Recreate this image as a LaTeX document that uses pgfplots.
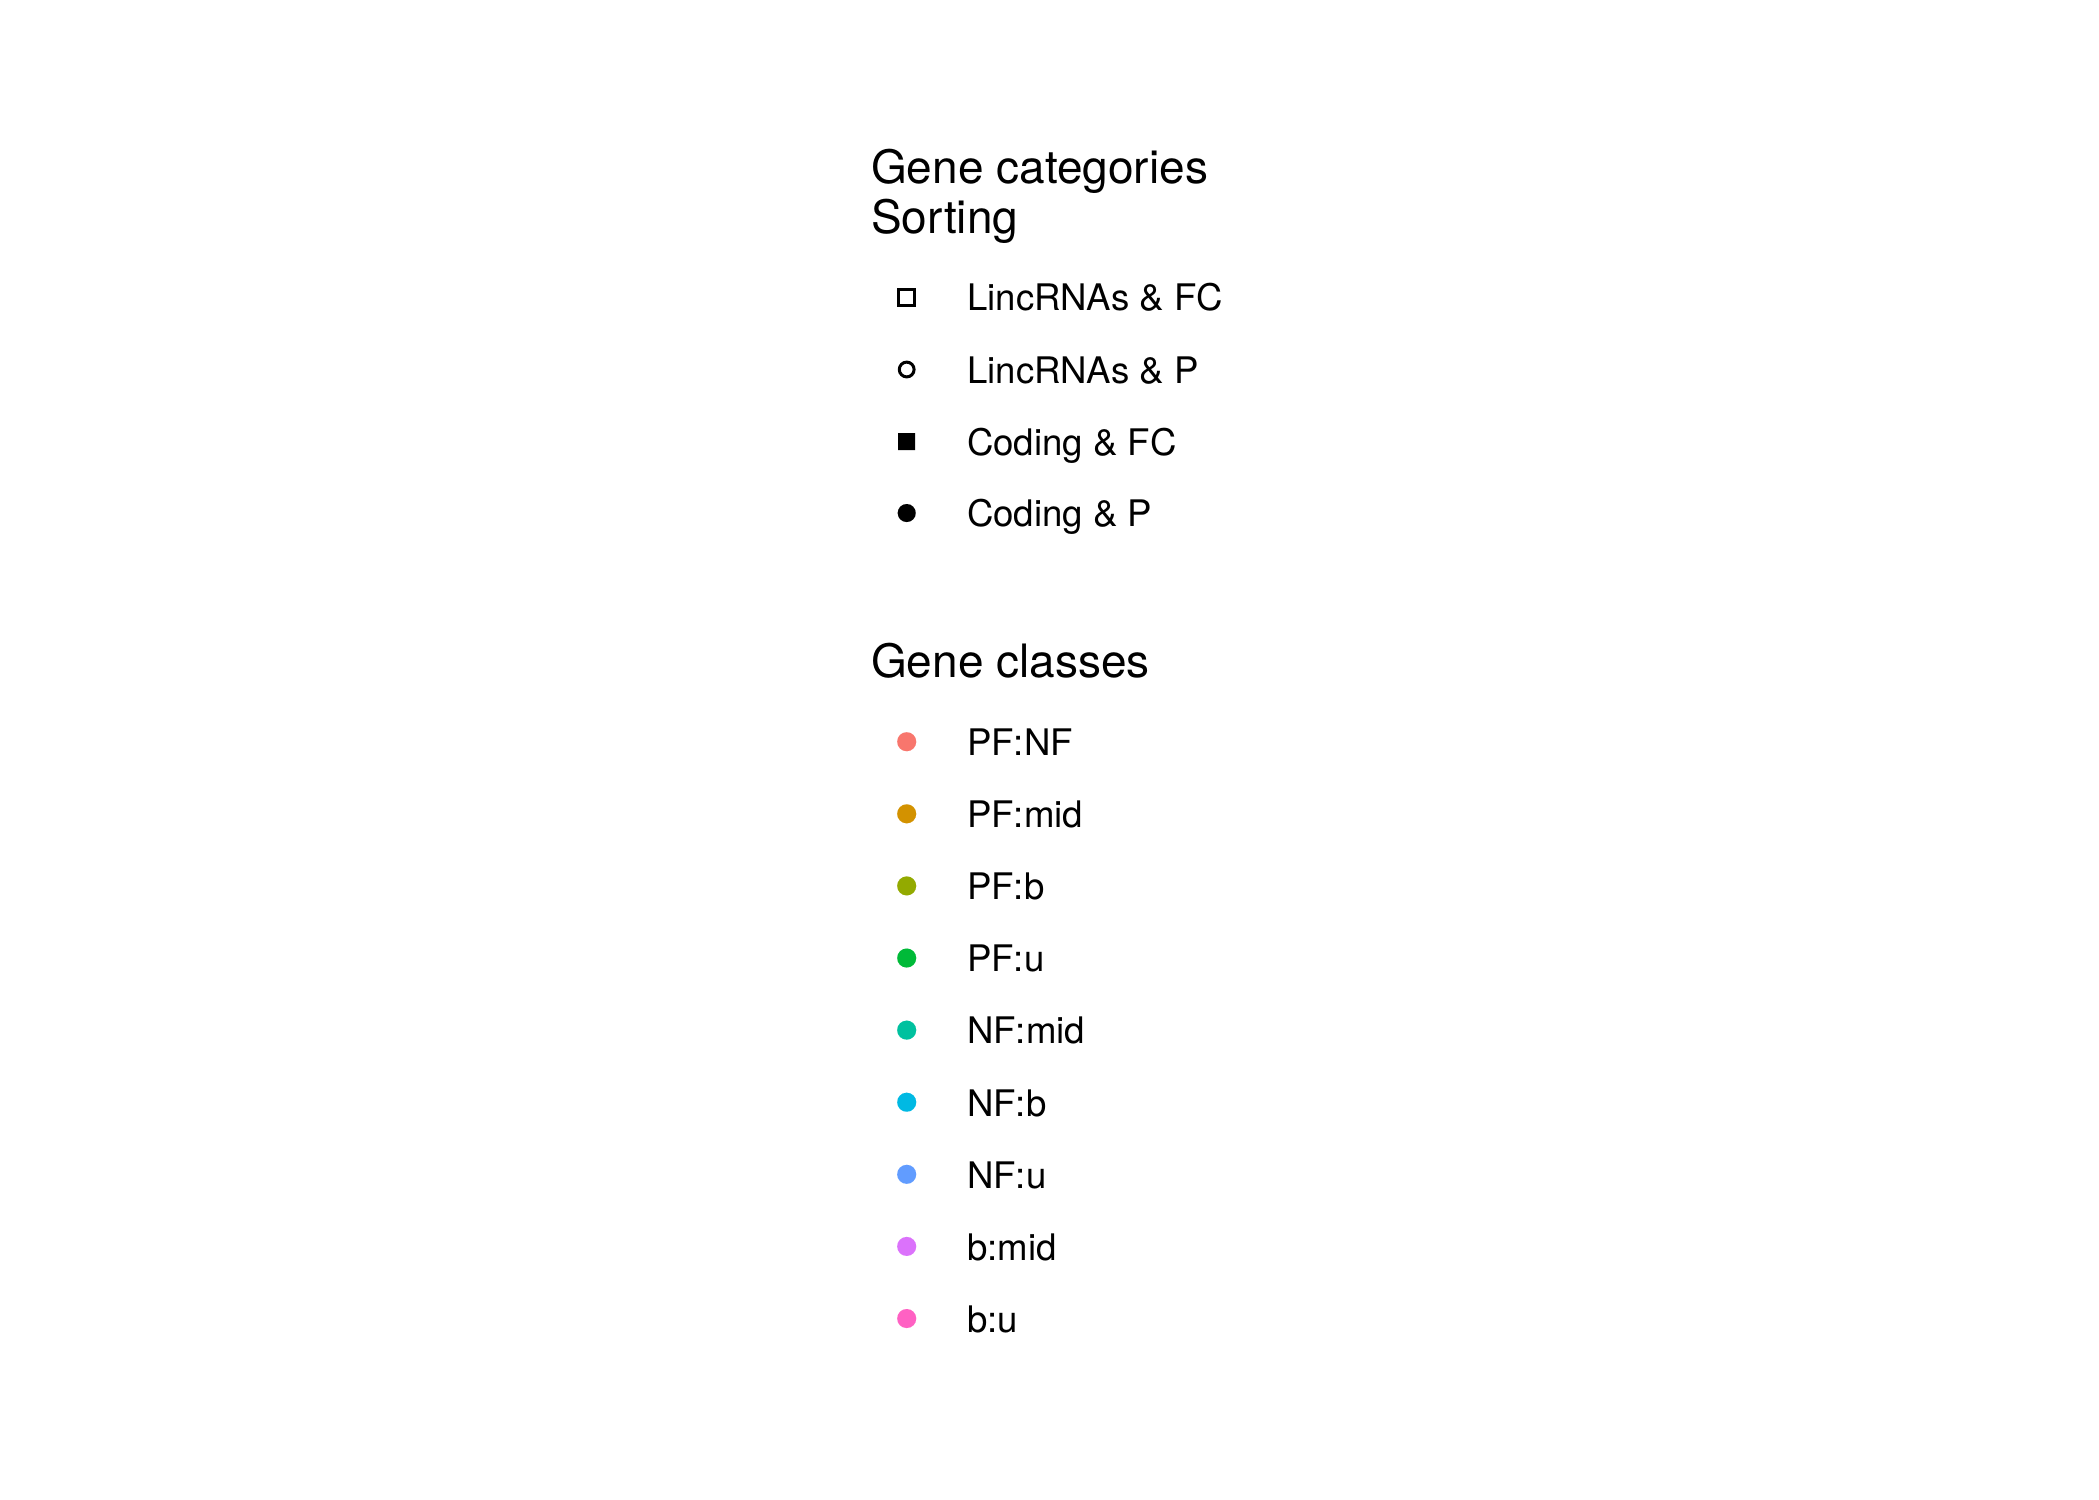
\documentclass[border=0pt]{standalone}
\usepackage{fontspec}
\setmainfont{TeX Gyre Heros}
\usepackage{pgfplots}
\pgfplotsset{compat=1.18}
\definecolor{cA}{HTML}{F8766D}
\definecolor{cB}{HTML}{D39200}
\definecolor{cC}{HTML}{93AA00}
\definecolor{cD}{HTML}{00BA38}
\definecolor{cE}{HTML}{00C19F}
\definecolor{cF}{HTML}{00B9E3}
\definecolor{cG}{HTML}{619CFF}
\definecolor{cH}{HTML}{DB72FB}
\definecolor{cI}{HTML}{FF61C3}
\begin{document}
\begin{tikzpicture}
\begin{axis}[
  scale only axis, width=2099bp, height=1499bp,
  xmin=0, xmax=2099, ymin=0, ymax=1499, y dir=reverse,
  hide axis, clip=false,
  cls/.style={color=#1, only marks, mark=*, mark size=9.5bp, mark options={draw=#1, fill=#1, line width=0.01bp}},
]
\path (rel axis cs:0,0) rectangle (rel axis cs:1,1);
% Gene categories / Sorting
\addplot[black, line width=3bp, only marks, mark=square, mark size=8bp, mark options={draw=black, line width=3bp}] coordinates {(906.7,297)};
\addplot[black, line width=3bp, only marks, mark=o, mark size=7.4bp, mark options={draw=black, line width=3bp}] coordinates {(906.7,369.5)};
\addplot[black, only marks, mark=square*, mark size=8.7bp, mark options={draw=black, fill=black, line width=0.01bp}] coordinates {(906.7,441.5)};
\addplot[black, only marks, mark=*, mark size=9bp, mark options={draw=black, fill=black, line width=0.01bp}] coordinates {(906.7,513)};
% Gene classes
\addplot[cls=cA] coordinates {(906.7,741.7)};
\addplot[cls=cB] coordinates {(906.7,813.8)};
\addplot[cls=cC] coordinates {(906.7,885.9)};
\addplot[cls=cD] coordinates {(906.7,958.0)};
\addplot[cls=cE] coordinates {(906.7,1030.1)};
\addplot[cls=cF] coordinates {(906.7,1102.2)};
\addplot[cls=cG] coordinates {(906.7,1174.3)};
\addplot[cls=cH] coordinates {(906.7,1246.4)};
\addplot[cls=cI] coordinates {(906.7,1318.5)};
% titles
\tikzset{ttl/.style={anchor=base west, inner sep=0pt, font=\fontsize{46bp}{50bp}\selectfont},
         lbl/.style={anchor=base west, inner sep=0pt, font=\fontsize{36.6bp}{40bp}\selectfont}}
\node[ttl] at (axis cs:871,183.5) {Gene categories};
\node[ttl] at (axis cs:871,233.5) {Sorting};
\node[ttl] at (axis cs:871,677.2) {Gene classes};
% labels
\node[lbl] at (axis cs:967,310.5) {LincRNAs \& FC};
\node[lbl] at (axis cs:967,383) {LincRNAs \& P};
\node[lbl] at (axis cs:967,455) {Coding \& FC};
\node[lbl] at (axis cs:967,526.5) {Coding \& P};
\node[lbl] at (axis cs:967,755.5) {PF:NF};
\node[lbl] at (axis cs:967,827.6) {PF:mid};
\node[lbl] at (axis cs:967,899.7) {PF:b};
\node[lbl] at (axis cs:967,971.8) {PF:u};
\node[lbl] at (axis cs:967,1043.9) {NF:mid};
\node[lbl] at (axis cs:967,1116.0) {NF:b};
\node[lbl] at (axis cs:967,1188.1) {NF:u};
\node[lbl] at (axis cs:967,1260.2) {b:mid};
\node[lbl] at (axis cs:967,1332.3) {b:u};
\end{axis}
\end{tikzpicture}
\end{document}
